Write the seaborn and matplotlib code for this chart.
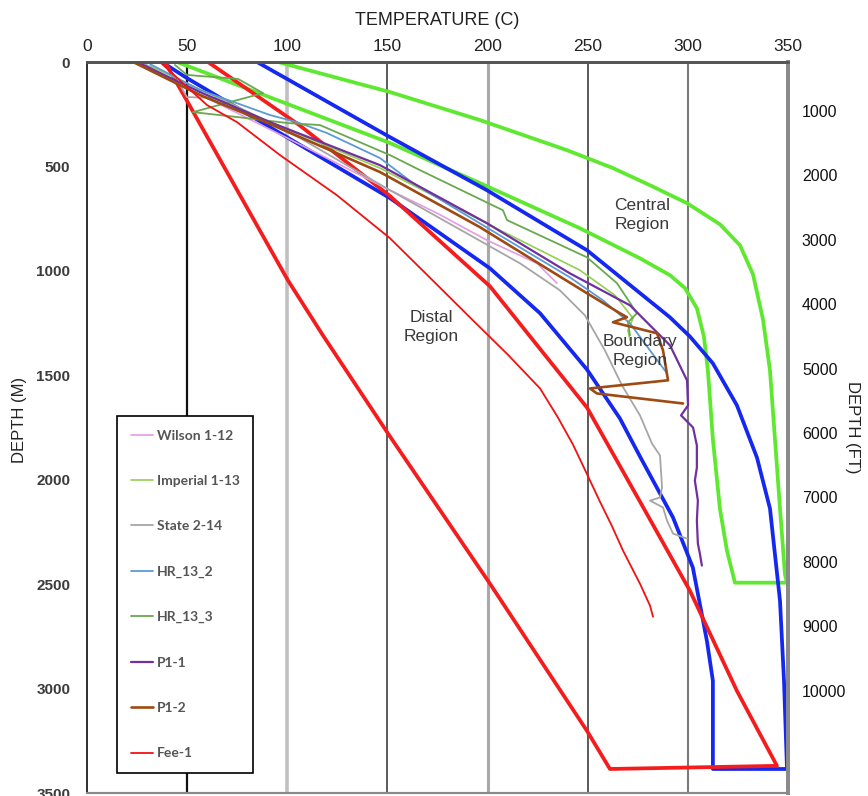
import matplotlib
matplotlib.use('Agg')
import matplotlib.pyplot as plt
import seaborn as sns
import pandas as pd
from matplotlib.font_manager import FontProperties

# ---------------- data (temperature C, depth m) ----------------
# model envelopes (closed outlines)
central_T = [45, 151.3, 196.2, 246.1, 276.1, 291.1, 298.6, 304.5, 308, 310, 312.5, 316, 319.5, 323.5,
             349.5, 348.5, 346, 343.5, 341, 337.5, 332.5, 326, 316, 299.6, 281.1, 262.6, 239.6, 196.2, 151.3, 95.4]
central_D = [0, 388, 580, 796, 940, 1021, 1083, 1179, 1314, 1477, 1807, 2138, 2339, 2493,
             2493, 2455, 2138, 1807, 1477, 1232, 1016, 877, 777, 676, 590, 508, 422, 278, 144, 0]

boundary_T = [37.4, 49.9, 151.3, 201.2, 226.2, 249.6, 266.1, 276.1, 292.6, 302.5, 309.5, 312.5, 312.5,
              349.5, 348, 346, 341, 334.5, 324.5, 312.5, 301, 291, 249.6, 199.7, 151.3, 84.9]
boundary_D = [0, 77, 652, 988, 1203, 1472, 1707, 1889, 2181, 2421, 2771, 2963, 3385,
              3385, 2963, 2579, 2138, 1894, 1644, 1443, 1314, 1222, 901, 614, 360, 0]

distal_T = [38.9, 51.4, 76.4, 100.3, 117.8, 150.3, 201.2, 249.6, 261.1,
            344.5, 324.5, 301, 276.1, 249.6, 201.2, 151.3, 106, 60.4]
distal_D = [0, 211, 638, 1045, 1309, 1779, 2498, 3202, 3385,
            3370, 3011, 2531, 2105, 1654, 1074, 642, 302, 0]

# well logs
wilson_T = [30, 60, 100, 146.3, 175, 199.7, 224.7, 234.6]
wilson_D = [30, 173, 364, 590, 725, 853, 964, 1059]

imperial_T = [31.5, 91.4, 146.3, 206.2, 246.1, 263.6, 272.6, 270.1, 271.1]
imperial_D = [19, 288, 508, 805, 997, 1117, 1227, 1285, 1333]

state_T = [29, 46.4, 49.9, 66.4, 106.3, 151.3, 191.2, 216.2, 236.1, 248.6, 258.6, 267.1, 276.1, 282.1,
           286.1, 287.1, 286.1, 281.1, 287.6, 289.6, 292.6, 299.6]
state_D = [10, 110, 168, 173, 364, 614, 829, 964, 1093, 1213, 1381, 1548, 1692, 1827,
           1884, 2037, 2085, 2100, 2133, 2196, 2258, 2282]

hr132_T = [31.5, 56.4, 91.4, 104.8, 119.8, 146.3, 162.8, 182.7, 207.7, 241.1, 257.6, 271.1, 281.1, 289.6]
hr132_D = [10, 134, 254, 288, 340, 460, 580, 695, 839, 1031, 1141, 1251, 1381, 1491]

hr133_T = [43.9, 49.9, 75.4, 87.9, 52.9, 75.4, 99.9, 116.3, 151.3, 166.3, 207.7, 209.7, 249.6, 264.6,
           274.6, 270.1, 271.1]
hr133_D = [14, 62, 81, 149, 240, 264, 292, 302, 446, 518, 710, 757, 935, 1059,
           1203, 1246, 1309]

p11_T = [25, 56.4, 91.4, 146.3, 199.7, 241.1, 271.1, 291.1, 299.6, 300.1, 296.6, 302.6, 304.5, 304.5,
         303.5, 305, 304.5, 305, 306, 307]
p11_D = [0, 144, 288, 494, 772, 1012, 1165, 1357, 1525, 1644, 1692, 1750, 1836, 1942,
         2004, 2100, 2196, 2306, 2354, 2411]

p12_T = [23, 56.4, 91.4, 146.3, 196.2, 249.6, 266.1, 269.6, 262.6, 284.6, 287.6, 290.1, 251.1, 254.6, 297.6]
p12_D = [0, 158, 297, 527, 791, 1107, 1203, 1222, 1246, 1299, 1381, 1524, 1563, 1587, 1635]

fee_T = [36.4, 48.9, 59.9, 74.9, 96.4, 124.8, 151.3, 172, 192.7, 210, 226.2, 235, 242.6, 249, 256.1,
         262, 267.6, 276.1, 281.1, 282.6]
fee_D = [0, 110, 206, 288, 446, 638, 844, 1040, 1237, 1400, 1563, 1700, 1831, 1960, 2105,
         2220, 2339, 2498, 2603, 2656]

temp_ticks = [0, 50, 100, 150, 200, 250, 300, 350]
depth_ticks = [0, 500, 1000, 1500, 2000, 2500, 3000, 3500]
ft_ticks = [1000, 2000, 3000, 4000, 5000, 6000, 7000, 8000, 9000, 10000]

# ---------------- style ----------------
sns.set_theme(style='white')
plt.rcParams['font.family'] = ['Liberation Sans', 'DejaVu Sans']

fig = plt.figure(figsize=(8.68, 7.96), dpi=100)
ax = fig.add_axes([87 / 868, 3 / 796, 701 / 868, 731 / 796])

# vertical grid lines
grid_styles = {50: ('#111111', 1.6), 100: ('#c0c0c0', 2.6), 150: ('#5a5a5a', 1.4),
               200: ('#a8a8a8', 2.2), 250: ('#5a5a5a', 1.4), 300: ('#7a7a7a', 1.5)}
for t, (c, lw) in grid_styles.items():
    ax.axvline(t, color=c, lw=lw, zorder=0.5)

def draw(T, D, color, lw, label=None):
    df = pd.DataFrame({'T': T, 'D': D})
    sns.lineplot(data=df, x='T', y='D', sort=False, estimator=None, color=color,
                 lw=lw, ax=ax, label=label, legend=False)

# envelopes
draw(central_T, central_D, '#5ee830', 2.7)
draw(boundary_T, boundary_D, '#1428f0', 2.7)
draw(distal_T, distal_D, '#f41c1c', 2.7)

# wells
wells = [
    ('Wilson 1-12', wilson_T, wilson_D, '#e59be0', 1.2),
    ('Imperial 1-13', imperial_T, imperial_D, '#92d050', 1.2),
    ('State 2-14', state_T, state_D, '#a6a6a6', 1.3),
    ('HR_13_2', hr132_T, hr132_D, '#5b9bd5', 1.3),
    ('HR_13_3', hr133_T, hr133_D, '#6aa84f', 1.3),
    ('P1-1', p11_T, p11_D, '#7030a0', 1.6),
    ('P1-2', p12_T, p12_D, '#9e4a12', 1.9),
    ('Fee-1', fee_T, fee_D, '#f41010', 1.3),
]
for name, T, D, c, lw in wells:
    draw(T, D, c, lw, label=name)

ax.set_xlim(0, 350)
ax.set_ylim(3500, 0)

# region labels
for txt, t, d in [('Central\nRegion', 277, 733), ('Distal\nRegion', 172, 1270), ('Boundary\nRegion', 276, 1385)]:
    ax.text(t, d, txt, ha='center', va='center', fontsize=12.5, color='#3a3a3a', linespacing=1.3)

# x axis on top
ax.xaxis.tick_top()
ax.xaxis.set_label_position('top')
ax.set_xticks(temp_ticks)
ax.set_xticklabels([str(v) for v in temp_ticks], fontsize=12.5, color='#222222')
ax.tick_params(axis='x', length=0, pad=6)
ax.set_xlabel('TEMPERATURE (C)', fontsize=13, color='#222222', labelpad=10)

# left depth axis
ax.set_yticks(depth_ticks)
ax.set_yticklabels([str(v) for v in depth_ticks], fontsize=11, fontweight='bold', color='#3c3c3c')
ax.tick_params(axis='y', length=0, pad=12)
ax.set_ylabel('DEPTH (M)', fontsize=12, color='#222222')
ax.yaxis.set_label_coords(-0.085, 0.51)

# right depth axis (ft)
ax2 = ax.twinx()
ax2.set_ylim(11590, 240)
ax2.set_yticks(ft_ticks)
ax2.set_yticklabels([str(v) for v in ft_ticks], fontsize=11.5, color='#111111')
ax2.tick_params(axis='y', length=0, pad=10)
ax2.set_ylabel('DEPTH (FT)', fontsize=12, color='#222222', rotation=270, va='center')
ax2.yaxis.set_label_coords(1.092, 0.50)
ax2.grid(False)
ax.grid(False)

for a in (ax, ax2):
    a.spines['left'].set_color('#333333'); a.spines['left'].set_linewidth(1.3)
    a.spines['top'].set_color('#555555'); a.spines['top'].set_linewidth(2.0)
    a.spines['right'].set_color('#8a8a8a'); a.spines['right'].set_linewidth(2.8)
    a.spines['bottom'].set_color('#8a8a8a'); a.spines['bottom'].set_linewidth(1.5)

# legend
handles, labels = ax.get_legend_handles_labels()
leg = ax.legend(handles, labels, loc='lower left', bbox_to_anchor=(0.043, 0.027),
                frameon=True, fancybox=False, edgecolor='black', framealpha=1,
                labelspacing=2.4, handlelength=1.6, handletextpad=0.25, borderpad=1.0,
                borderaxespad=0,
                prop=FontProperties(family=['Lato', 'DejaVu Sans'], weight='bold', size=10))
leg.get_frame().set_linewidth(1.2)
leg.set_zorder(10)
for t in leg.get_texts():
    t.set_color('#555555')

fig.savefig('out.png', dpi=100)
